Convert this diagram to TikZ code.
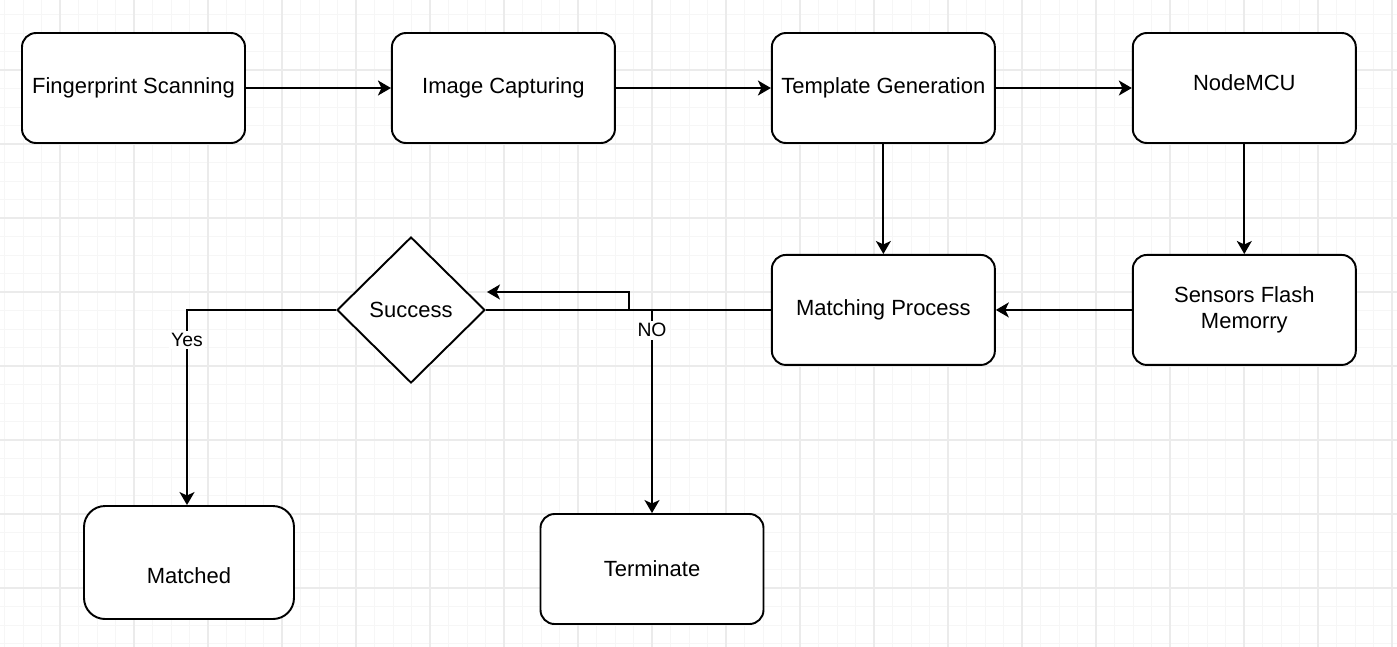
\documentclass[tikz,border=0pt]{standalone}
\usepackage{fontspec}
\setmainfont{Liberation Sans}
\usetikzlibrary{shapes.geometric,arrows.meta,positioning}

\begin{document}
\begin{tikzpicture}[
    every node/.style={font=\fontsize{12.5}{15}\selectfont},
    block/.style={
      rectangle, draw, rounded corners=8pt, line width=1.1pt,
      minimum width=4.46cm, minimum height=2.2cm,
      align=center, fill=white
    },
    endblock/.style={
      rectangle, draw, rounded corners=12pt, line width=1.1pt,
      minimum width=4.2cm, minimum height=2.26cm,
      align=center, fill=white
    },
    decision/.style={
      diamond, draw, line width=1.1pt,
      minimum width=2.96cm, minimum height=2.92cm,
      inner sep=0pt, fill=white
    },
    arr/.style={-{Stealth[length=2.6mm,width=3mm,inset=0.7mm]}, line width=1.1pt},
    tag/.style={font=\fontsize{11}{13}\selectfont, fill=white, inner sep=1.5pt}
  ]

  % Page and background grid
  \useasboundingbox (0,0) rectangle (27.94,-12.92);
  \begin{scope}[shift={(1.2,-1.4)}]
    \clip (-1.2,1.4) rectangle (26.74,-11.52);
    \draw[gray!7, line width=0.5pt, step=0.37] (-1.48,-12.58) grid (26.94,1.48);
    \draw[gray!16, line width=0.6pt, step=1.48] (-1.48,-12.58) grid (26.94,1.48);
  \end{scope}

  % Top row
  \node[block] (scan) at (2.67,-1.76) {Fingerprint Scanning};
  \node[block, right=2.90cm of scan] (capture) {Image Capturing};
  \node[block, right=3.10cm of capture] (template) {Template Generation};
  \node[block, right=2.72cm of template, text height=0.33cm, text depth=0.25cm] (mcu) {NodeMCU};

  % Second row
  \node[block, below=2.2cm of template] (matching) {Matching Process};
  \node[block, below=2.2cm of mcu] (flash) {Sensors Flash\\Memorry};
  \node[decision] (success) at (8.22,-6.2) {Success};

  % Results
  \node[endblock, text height=0.95cm, text depth=0.1cm] (matched) at (3.78,-11.25) {Matched};
  \node[block] (terminate) at (13.04,-11.38) {Terminate};

  % Helper points for the return path
  \coordinate (kink) at (12.58,-5.84);
  \coordinate (back) at (9.74,-5.84);

  % Arrows
  \draw[arr] (scan) -- (capture);
  \draw[arr] (capture) -- (template);
  \draw[arr] (template) -- (mcu);
  \draw[arr] (template) -- (matching);
  \draw[arr] (mcu) -- (flash);
  \draw[arr] (flash) -- (matching);
  \draw[arr] (matching.west) -| (kink) -- (back);

  % Decision branches
  \draw[arr] (success.west) -| node[tag, pos=0.577] {Yes} ([xshift=-0.04cm]matched.north);
  \draw[arr] (success.east) -| node[tag, pos=0.55] {NO} (terminate.north);

\end{tikzpicture}
\end{document}
